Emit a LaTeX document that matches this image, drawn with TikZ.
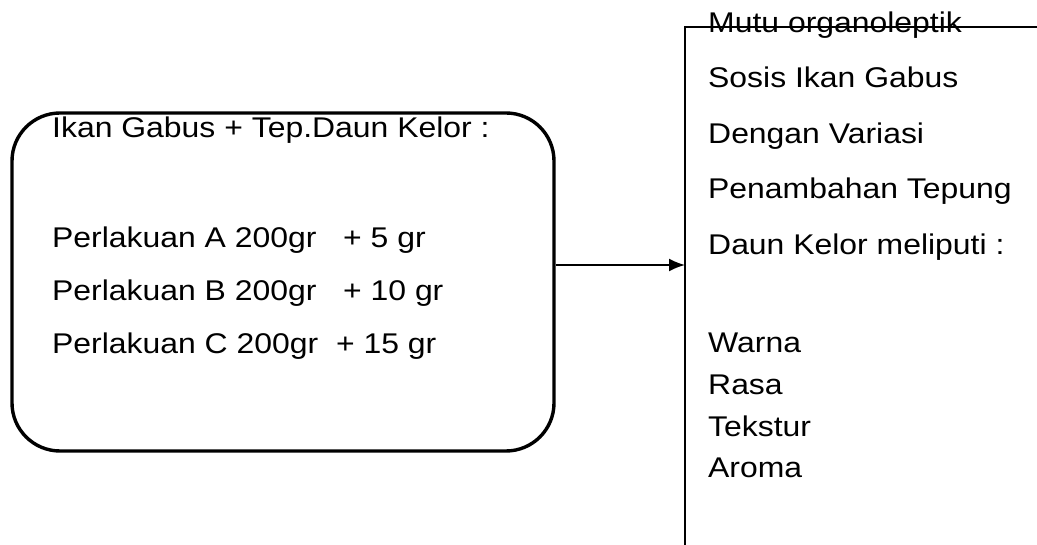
\documentclass[tikz,border=0pt]{standalone}
\usepackage{fontspec}
\setmainfont{Liberation Sans}
\usetikzlibrary{arrows.meta}
\newcommand{\wtxt}[1]{\scalebox{1.12}[1]{#1}}
\tikzset{
  lbl/.style={anchor=base west, inner sep=0pt, font=\fontsize{28.5}{34}\selectfont},
  roundbox/.style={draw, line width=3.4pt, rounded corners=48pt, rectangle, minimum width=542pt, minimum height=338pt, inner sep=0pt},
  frame/.style={line width=1.6pt},
  conn/.style={line width=1.8pt, -{Latex[length=16pt,width=13pt]}}
}
\begin{document}
\begin{tikzpicture}[x=1pt,y=-1pt]
\useasboundingbox (0,0) rectangle (1037,545);
% left rounded box
\node[roundbox] (box) at (283,282) {};
\node[lbl] (t0) at (52,138) {\wtxt{Ikan Gabus + Tep.Daun Kelor :}};
\node[lbl] (t1) at (52,248) {\wtxt{Perlakuan A 200gr\ \ \ + 5 gr}};
\node[lbl] (t2) at (52,301) {\wtxt{Perlakuan B 200gr\ \ \ + 10 gr}};
\node[lbl] (t3) at (52,354) {\wtxt{Perlakuan C 200gr\ \ + 15 gr}};
% right open frame
\coordinate (ftop) at (685,27);
\coordinate (fright) at (1037,27);
\coordinate (fbot) at (685,545);
\coordinate (fin) at (685,265);
\draw[frame] (fbot) -- (ftop) -- (fright);
% right texts
\node[lbl] (r0) at (708,33) {\wtxt{Mutu organoleptik}};
\node[lbl] (r1) at (708,88) {\wtxt{Sosis Ikan Gabus}};
\node[lbl] (r2) at (708,144) {\wtxt{Dengan Variasi}};
\node[lbl] (r3) at (708,199) {\wtxt{Penambahan Tepung}};
\node[lbl] (r4) at (708,255) {\wtxt{Daun Kelor meliputi :}};
\node[lbl] (w1) at (708,353) {\wtxt{Warna}};
\node[lbl] (w2) at (708,395) {\wtxt{Rasa}};
\node[lbl] (w3) at (708,437) {\wtxt{Tekstur}};
\node[lbl] (w4) at (708,478) {\wtxt{Aroma}};
% connector
\draw[conn] (box.east |- fin) -- (fin);
\end{tikzpicture}
\end{document}
